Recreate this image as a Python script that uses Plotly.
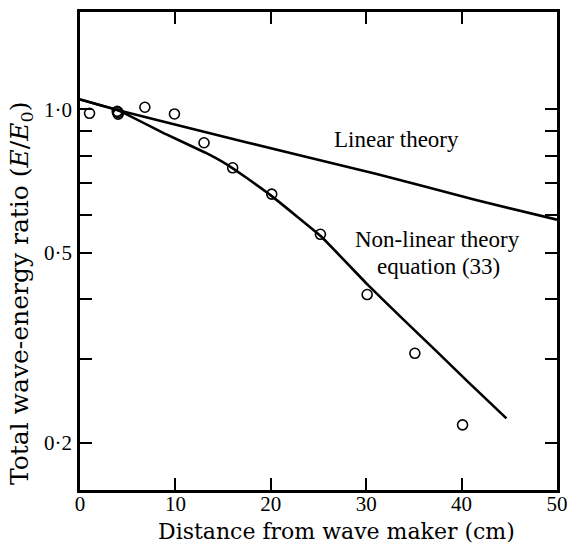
import plotly.graph_objects as go

# Measured data points (open circles)
obs_x = [1.0, 3.9, 4.0, 4.0, 6.8, 9.9, 13.0, 16.0, 20.1, 25.2, 30.1, 35.1, 40.1]
obs_y = [0.981, 0.99, 0.985, 0.977, 1.01, 0.978, 0.851, 0.754, 0.664, 0.547, 0.409, 0.308, 0.218]

# Linear theory curve
lin_x = [0, 4, 17.3, 31.1, 41.4, 50]
lin_y = [1.049, 0.995, 0.854, 0.732, 0.646, 0.587]

# Non-linear theory, equation (33)
nl_x = [0, 4, 9.0, 13.1, 15.5, 17.3, 20, 25.2, 30.2, 33.8, 37.3, 40.7, 44.7]
nl_y = [1.049, 0.995, 0.887, 0.812, 0.764, 0.722, 0.660, 0.543, 0.428, 0.364, 0.312, 0.268, 0.225]

# Tick labels
x_tickvals = [0, 10, 20, 30, 40, 50]
x_ticktext = ["0", "10", "20", "30", "40", "50"]
y_tickvals = [0.2, 0.5, 1.0]
y_ticktext = ["0·2", "0·5", "1·0"]
y_minorvals = [0.3, 0.4, 0.6, 0.7, 0.8, 0.9]

fig = go.Figure()
fig.add_trace(go.Scatter(x=lin_x, y=lin_y, mode="lines",
                         line=dict(color="black", width=2.6, shape="spline", smoothing=0.3),
                         showlegend=False, hoverinfo="skip"))
fig.add_trace(go.Scatter(x=nl_x, y=nl_y, mode="lines",
                         line=dict(color="black", width=2.6, shape="spline", smoothing=0.3),
                         showlegend=False, hoverinfo="skip"))
fig.add_trace(go.Scatter(x=obs_x, y=obs_y, mode="markers",
                         marker=dict(symbol="circle-open", size=10, color="black",
                                     line=dict(width=1.6, color="black")),
                         showlegend=False))

tick_font = dict(family="Liberation Serif, Times New Roman, serif", size=21, color="black")
fig.update_xaxes(range=[0, 50], tickvals=x_tickvals, ticktext=x_ticktext,
                 ticks="inside", ticklen=12, tickwidth=2.4, tickcolor="black",
                 showline=True, linewidth=2.6, linecolor="black", mirror="ticks",
                 showgrid=False, zeroline=False, tickfont=tick_font,
                 ticklabelstandoff=-7)
fig.update_yaxes(type="log", range=[-0.798, 0.204], tickvals=y_tickvals, ticktext=y_ticktext,
                 ticks="inside", ticklen=12, tickwidth=2.4, tickcolor="black",
                 minor=dict(tickvals=y_minorvals, ticks="inside", ticklen=12,
                            tickwidth=2.4, tickcolor="black", showgrid=False),
                 showline=True, linewidth=2.6, linecolor="black", mirror="ticks",
                 showgrid=False, zeroline=False, tickfont=tick_font,
                 ticklabelstandoff=1)

ann_font = dict(family="Liberation Serif, Times New Roman, serif", size=23, color="black")
xtitle_font = dict(family="DejaVu Serif, serif", size=22, color="black")
ytitle_font = dict(family="DejaVu Serif, serif", size=25, color="black")
fig.add_annotation(text="Linear theory", xref="paper", yref="paper", x=0.6625, y=0.734,
                   showarrow=False, font=ann_font, xanchor="center", yanchor="middle")
fig.add_annotation(text="Non-linear theory", xref="paper", yref="paper", x=0.7505, y=0.524,
                   showarrow=False, font=ann_font, xanchor="center", yanchor="middle")
fig.add_annotation(text="equation (33)", xref="paper", yref="paper", x=0.752, y=0.468,
                   showarrow=False, font=ann_font, xanchor="center", yanchor="middle")
fig.add_annotation(text="Distance from wave maker (cm)", xref="paper", yref="paper",
                   x=0.538, y=-0.086, showarrow=False, font=xtitle_font,
                   xanchor="center", yanchor="middle")
fig.add_annotation(text="Total wave-energy ratio (<i>E</i>/<i>E</i><sub>0</sub>)",
                   xref="paper", yref="paper", x=-0.124, y=0.4116, textangle=-90,
                   showarrow=False, font=ytitle_font, xanchor="center", yanchor="middle")

fig.update_layout(width=577, height=552, margin=dict(l=80, r=14, t=9, b=62),
                  plot_bgcolor="white", paper_bgcolor="white")
fig.write_html("out.html")
